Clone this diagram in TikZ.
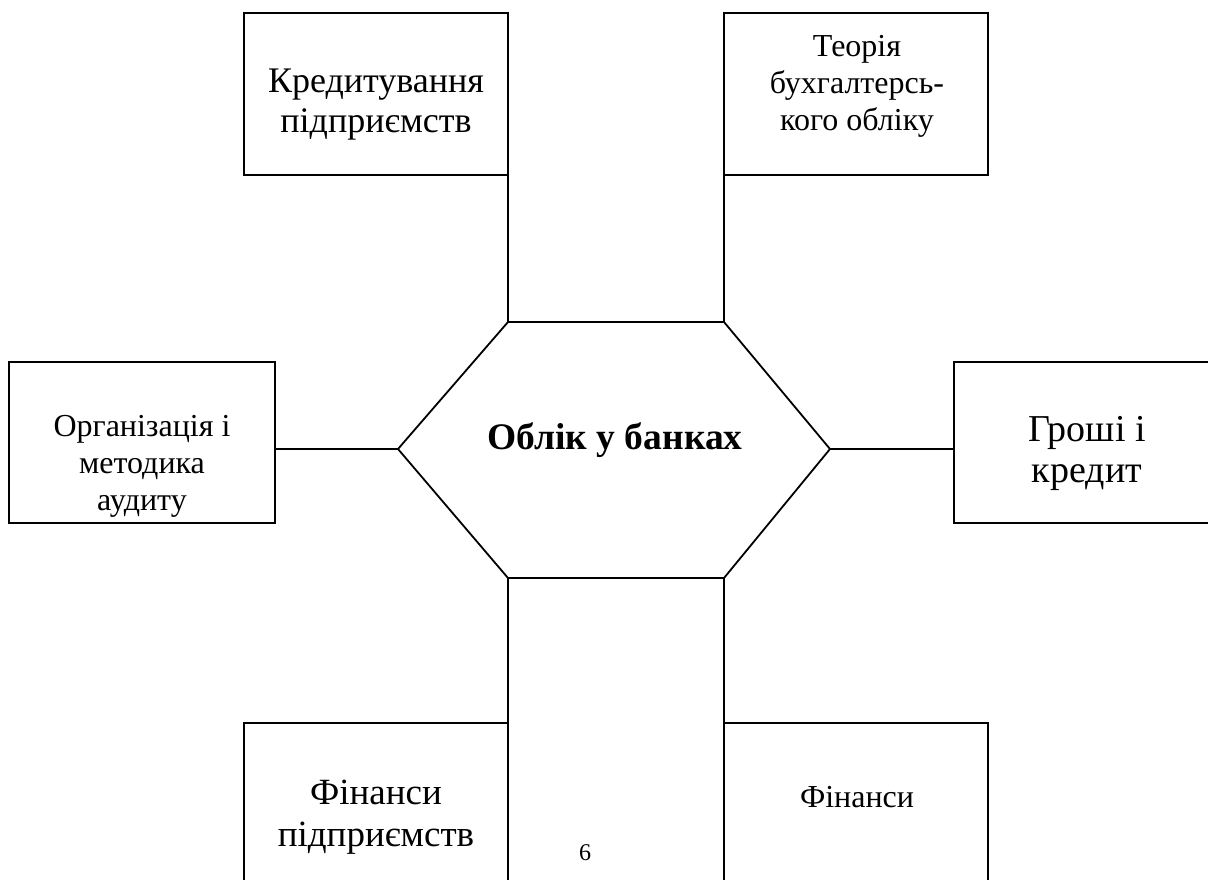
\documentclass[tikz,border=0pt]{standalone}
\usepackage{fontspec}
\setmainfont{Liberation Serif}
\begin{document}
\begin{tikzpicture}[x=1pt,y=-1pt,
  box/.style={draw, line width=1.8pt, rectangle, inner sep=0pt, outer sep=0pt},
  lnk/.style={line width=1.8pt},
  lbl/.style={align=center, inner sep=0pt, outer sep=0pt}]
\useasboundingbox (0,0) rectangle (1208,879);
\clip (0,0) rectangle (1208,879);
% boxes
\node[box, minimum width=264pt, minimum height=162pt] (b1) at (376,94) {};
\node[box, minimum width=264pt, minimum height=162pt] (b2) at (856,94) {};
\node[box, minimum width=266pt, minimum height=161pt] (b3) at (142,442.5) {};
\node[box, minimum width=266pt, minimum height=161pt] (b4) at (1087,442.5) {};
\node[box, minimum width=264pt, minimum height=172pt] (b5) at (376,809) {};
\node[box, minimum width=264pt, minimum height=172pt] (b6) at (856,809) {};
% texts
\node[lbl, font=\fontsize{36}{40}\selectfont] (t1) at (376,105) {Кредитування\\підприємств};
\node[lbl, font=\fontsize{32}{37}\selectfont] (t2) at (857,86) {Теорія\\бухгалтерсь-\\кого обліку};
\node[lbl, font=\fontsize{32}{37}\selectfont] (t3) at (142,466) {Організація і\\методика\\аудиту};
\node[lbl, font=\fontsize{38}{41}\selectfont] (t4) at (1087,453) {Гроші і\\кредит};
\node[lbl, font=\fontsize{37}{42}\selectfont] (t5) at (376,817) {Фінанси\\підприємств};
\node[lbl, font=\fontsize{32}{36}\selectfont] (t6) at (857,797) {Фінанси};
\node[lbl, font=\fontsize{24}{28}\selectfont] (pg) at (585,853) {6};
% hexagon
\coordinate (hl) at (398,449);
\coordinate (htl) at (508,322);
\coordinate (htr) at (724,322);
\coordinate (hr) at (830,449);
\coordinate (hbr) at (724,578);
\coordinate (hbl) at (508,578);
\draw[lnk, line join=miter] (hl) -- (htl) -- (htr) -- (hr) -- (hbr) -- (hbl) -- cycle;
\node[lbl, font=\fontsize{37.5}{40}\selectfont\bfseries] (hx) at (615,440) {Облік у банках};
% connectors
\draw[lnk] (b1.south east) -- (htl);
\draw[lnk] (b2.south west) -- (htr);
\draw[lnk] (hl -| b3.east) -- (hl);
\draw[lnk] (hr) -- (hr -| b4.west);
\draw[lnk] (hbl) -- (b5.north east);
\draw[lnk] (hbr) -- (b6.north west);
\end{tikzpicture}
\end{document}
